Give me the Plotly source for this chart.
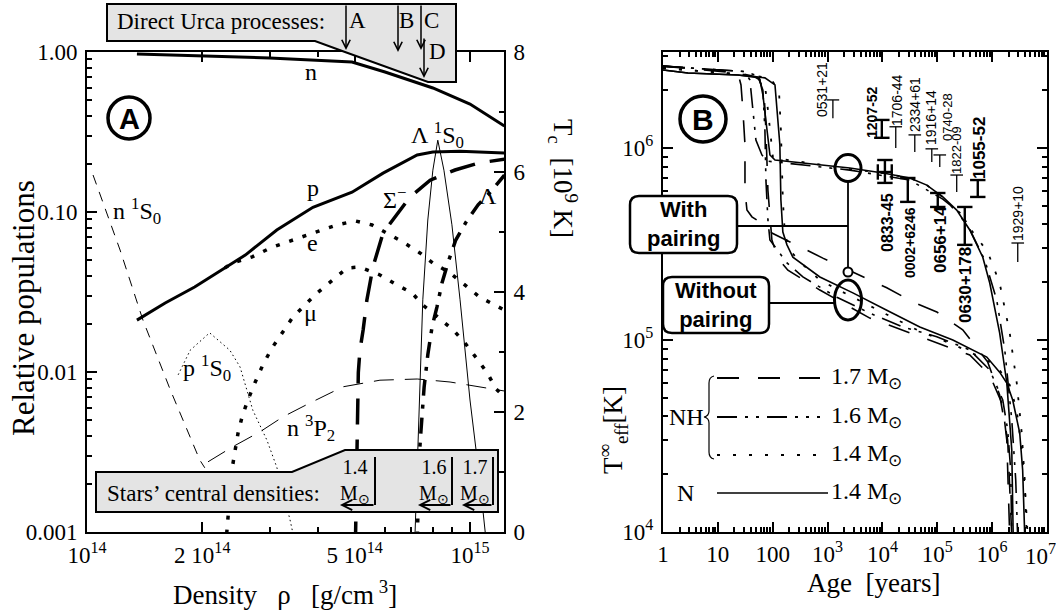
import plotly.graph_objects as go

W, H = 1056, 616
SERIF = "Liberation Serif"
SANS = "Liberation Sans"

# ------------------------- Panel A : populations vs density -------------------------
rho_n = [1.35e14, 2.0e14, 3.0e14, 4.92e14, 6.0e14, 8.0e14, 1.0e15, 1.23e15]
pop_n = [0.972, 0.944, 0.917, 0.866, 0.75, 0.596, 0.473, 0.345]

rho_p = [1.35e14, 1.60e14, 1.91e14, 2.20e14, 2.59e14, 3.13e14, 3.89e14, 4.92e14, 5.93e14, 7.28e14, 8.0e14, 9.42e14, 1.23e15]
pop_p = [0.0211, 0.027, 0.034, 0.0422, 0.0538, 0.0772, 0.107, 0.133, 0.175, 0.227, 0.237, 0.240, 0.234]

rho_e = [2.29e14, 2.40e14, 2.70e14, 3.01e14, 3.33e14, 3.66e14, 4.11e14, 4.50e14, 5.01e14, 5.55e14, 6.07e14, 6.68e14, 7.40e14, 8.00e14, 8.87e14, 9.70e14, 1.06e15, 1.23e15]
pop_e = [0.0447, 0.048, 0.0524, 0.0596, 0.0649, 0.0698, 0.0772, 0.083, 0.088, 0.083, 0.074, 0.0649, 0.0555, 0.048, 0.0416, 0.035, 0.0294, 0.0244]

rho_mu = [2.30e14, 2.36e14, 2.39e14, 2.43e14, 2.48e14, 2.54e14, 2.63e14, 2.75e14, 2.88e14, 3.04e14, 3.23e14, 3.45e14, 3.99e14, 4.39e14, 4.78e14, 5.16e14, 5.82e14, 6.44e14, 7.06e14, 7.53e14, 8.00e14, 9.04e14, 9.70e14, 1.04e15, 1.11e15, 1.17e15, 1.23e15]
pop_mu = [0.0008, 0.00183, 0.00244, 0.00312, 0.00416, 0.00524, 0.00668, 0.00866, 0.0111, 0.0141, 0.0175, 0.0221, 0.0312, 0.0376, 0.0447, 0.0453, 0.0404, 0.035, 0.0312, 0.0262, 0.0234, 0.0183, 0.0152, 0.0122, 0.00986, 0.00783, 0.00698]

rho_sigma = [5.02e14, 5.07e14, 5.11e14, 5.16e14, 5.26e14, 5.38e14, 5.58e14, 5.93e14, 6.37e14, 6.97e14, 7.87e14, 9.14e14, 1.05e15, 1.23e15]
pop_sigma = [0.0008, 0.00434, 0.0099, 0.0137, 0.0183, 0.0282, 0.0453, 0.074, 0.093, 0.124, 0.158, 0.183, 0.202, 0.214]

rho_lambda = [7.28e14, 7.31e14, 7.36e14, 7.45e14, 7.59e14, 7.76e14, 7.96e14, 8.20e14, 8.45e14, 8.77e14, 9.18e14, 9.77e14, 1.05e15, 1.13e15, 1.23e15]
pop_lambda = [0.0008, 0.0012, 0.00282, 0.00434, 0.00805, 0.0128, 0.0191, 0.0255, 0.036, 0.0487, 0.0668, 0.0866, 0.111, 0.133, 0.170]

# critical temperatures (right axis, 10^9 K)
rho_n1s0 = [1.037e14, 1.22e14, 1.40e14, 1.65e14, 1.97e14, 2.03e14]
tc_n1s0 = [5.95, 4.7, 3.53, 2.37, 1.2, 1.07]

rho_n3p2 = [2.07e14, 2.40e14, 2.83e14, 3.25e14, 3.82e14, 4.66e14, 5.82e14, 7.28e14, 8.87e14, 1.11e15, 1.23e15]
tc_n3p2 = [1.17, 1.42, 1.67, 1.92, 2.15, 2.42, 2.53, 2.55, 2.5, 2.4, 2.35]

rho_p1s0 = [1.73e14, 1.86e14, 2.09e14, 2.36e14, 2.51e14, 2.71e14, 2.95e14, 3.13e14, 3.39e14, 3.47e14]
tc_p1s0 = [2.62, 3.03, 3.32, 3.03, 2.75, 2.03, 1.53, 1.08, 0.2, -0.1]

rho_l1s0 = [7.18e14, 7.31e14, 7.53e14, 7.76e14, 8.0e14, 8.24e14, 8.55e14, 8.97e14, 9.42e14, 1.0e15, 1.06e15, 1.10e15]
tc_l1s0 = [-0.1, 1.37, 3.87, 5.2, 6.03, 6.53, 6.03, 5.12, 3.87, 2.2, 0.87, -0.1]

# ------------------------- Panel B : cooling curves -------------------------
age_N14_p = [1, 2.85, 23.2, 47.4, 58.5, 66.2, 72.1, 81.8, 88.9, 110, 2.55e3, 1.02e4, 3.16e4, 6.44e4, 1.26e5, 2.26e5, 3.91e5, 6.75e5, 9.04e5, 1.37e6, 1.85e6, 2.28e6, 2.42e6]
T_N14_p = [2.55e6, 2.46e6, 2.40e6, 2.34e6, 2.26e6, 1.89e6, 1.54e6, 1.10e6, 9.2e5, 8.66e5, 7.87e5, 7.41e5, 6.98e5, 6.41e5, 5.56e5, 4.75e5, 3.74e5, 2.70e5, 1.98e5, 1.09e5, 5.97e4, 2.67e4, 9.5e3]

age_N14_np = [1, 2.85, 23.2, 72.1, 110, 119, 135, 141, 153, 182, 233, 724, 2.89e3, 1.20e4, 4.80e4, 1.92e5, 7.98e5, 1.37e6, 1.85e6, 2.37e6, 3.18e6, 3.6e6, 3.93e6]
T_N14_np = [2.55e6, 2.46e6, 2.40e6, 2.32e6, 2.13e6, 1.54e6, 1.04e6, 5.36e5, 3.65e5, 3.13e5, 2.70e5, 2.13e5, 1.76e5, 1.43e5, 1.17e5, 1.0e5, 8.15e4, 6.8e4, 5.97e4, 4.87e4, 3.28e4, 2.1e4, 9.5e3]

age_NH14_p = [1, 23.2, 53.7, 72.1, 81.8, 92.7, 101, 2.55e3, 1.02e4, 3.16e4, 6.44e4, 1.26e5, 2.26e5, 3.91e5, 8.32e5, 1.37e6, 2.09e6, 2.81e6, 3.46e6, 3.93e6, 4.27e6]
T_NH14_p = [2.61e6, 2.43e6, 2.34e6, 2.13e6, 1.58e6, 1.10e6, 8.9e5, 7.77e5, 7.41e5, 6.98e5, 6.41e5, 5.56e5, 4.64e5, 3.83e5, 2.87e5, 1.98e5, 1.09e5, 5.97e4, 3.28e4, 1.87e4, 9.5e3]

age_NH14_np = [1, 23.2, 88.9, 130, 141, 153, 167, 206, 313, 724, 2.89e3, 1.2e4, 4.8e4, 1.92e5, 7.98e5, 1.37e6, 2.09e6, 2.81e6, 3.46e6, 4.09e6, 4.45e6]
T_NH14_np = [2.61e6, 2.43e6, 2.32e6, 2.0e6, 1.24e6, 5.36e5, 3.52e5, 2.94e5, 2.55e5, 2.05e5, 1.67e5, 1.36e5, 1.11e5, 9.5e4, 7.87e4, 6.98e4, 5.83e4, 4.3e4, 2.67e4, 1.47e4, 9.5e3]

age_NH16_p = [1, 10.9, 31.2, 38.4, 43.6, 49.4, 63.6, 78.3, 2.55e3, 3.16e4, 1.26e5, 2.91e5, 7.33e5, 1.21e6, 1.70e6, 2.28e6, 2.69e6, 2.92e6]
T_NH16_p = [2.67e6, 2.55e6, 2.50e6, 2.26e6, 1.58e6, 1.10e6, 9.2e5, 8.55e5, 7.67e5, 6.8e5, 5.42e5, 4.48e5, 2.61e5, 1.62e5, 8.87e4, 3.83e4, 1.87e4, 9.5e3]

age_NH16_np = [1, 31.2, 53.7, 66.2, 72.1, 75.2, 81.8, 88.9, 182, 355, 1.48e3, 5.89e3, 2.36e4, 9.8e4, 3.91e5, 9.04e5, 1.56e6, 1.92e6, 2.18e6, 2.28e6]
T_NH16_np = [2.67e6, 2.50e6, 2.37e6, 2.0e6, 1.24e6, 6.8e5, 4.22e5, 3.32e5, 2.52e5, 2.13e5, 1.67e5, 1.38e5, 1.17e5, 1.04e5, 8.87e4, 6.98e4, 4.87e4, 3.4e4, 2.1e4, 9.5e3]

age_NH17_p = [1, 10.9, 23.2, 26.4, 28.6, 31.2, 31.2, 33.9, 41.8, 58.5, 96.6, 313, 820, 1.2e4, 3.58e4, 9.8e4, 2.91e5, 8.32e5, 1.37e6, 1.92e6, 2.28e6]
T_NH17_p = [2.67e6, 2.55e6, 2.46e6, 2.13e6, 1.58e6, 1.04e6, 6.0e5, 4.75e5, 4.38e5, 4.12e5, 3.61e5, 3.05e5, 2.67e5, 1.87e5, 1.58e5, 1.40e5, 1.13e5, 7.67e4, 5.17e4, 3.01e4, 9.5e3]

age_NH17_np = [1, 23.2, 53.7, 69.1, 75.2, 81.8, 96.6, 124, 189, 724, 5.89e3, 4.8e4, 3.91e5, 9.04e5, 1.56e6, 1.85e6, 2.09e6]
T_NH17_np = [2.67e6, 2.46e6, 2.34e6, 2.0e6, 1.24e6, 6.0e5, 3.32e5, 2.67e5, 2.31e5, 1.82e5, 1.30e5, 1.04e5, 8.36e4, 6.56e4, 4.58e4, 3.01e4, 9.5e3]

# observations: upper limits (cap at top) and ranges
lim_names = ["0531+21", "1706-44", "2334+61", "1916+14", "0740-28", "1822-09", "1929+10"]
lim_age = [1.25e3, 1.75e4, 3.89e4, 7.94e4, 1.11e5, 2.26e5, 2.93e6]
lim_T_top = [1.78e6, 1.29e6, 1.17e6, 9.9e5, 9.2e5, 7.23e5, 3.2e5]
lim_T_bot = [1.43e6, 1.0e6, 9.53e5, 8.45e5, 7.96e5, 5.9e5, 2.55e5]

rng_names = ["1207-52", "0833-45", "0002+6246", "0656+14", "0630+178", "1055-52"]
rng_age = [9.75e3, 1.11e4, 2.9e4, 1.02e5, 3.17e5, 5.47e5]
rng_T_hi = [1.40e6, 8.66e5, 6.98e5, 5.83e5, 4.93e5, 6.81e5]
rng_T_lo = [1.13e6, 6.58e5, 5.24e5, 4.93e5, 3.13e5, 5.56e5]
vela_age_range = [8.24e3, 1.48e4]
vela_T = 7.5e5

# age axis tick labels
age_ticks = [1, 10, 100, 1e3, 1e4, 1e5, 1e6, 1e7]
age_ticktext = ["1", "10", "100", "10<sup>3</sup>", "10<sup>4</sup>", "10<sup>5</sup>", "10<sup>6</sup>", "10<sup>7</sup>"]

# label centres (pixels) for the observation names, font sizes, weights
lab_pos = {"0531+21": (822, 90, 14, False), "1706-44": (897, 100, 14, False), "2334+61": (915, 105, 14, False),
           "1916+14": (931, 118, 14, False), "0740-28": (947, 117, 13, False), "1822-09": (957, 150, 13, False),
           "1929+10": (1018, 214, 14, False), "1207-52": (872, 112, 14, True), "0833-45": (887, 223, 16, True),
           "0002+6246": (910, 243, 14, True), "0656+14": (940, 240, 17, True), "0630+178": (965, 285, 17, True),
           "1055-52": (979, 148, 17, True)}

# --------------------------------------------------------------------------------
def X(p):
    return p / W


def Y(p):
    return 1 - p / H


fig = go.Figure()


def add(x, y, xa, ya, width, dash="solid"):
    fig.add_trace(go.Scatter(x=x, y=y, mode="lines", xaxis=xa, yaxis=ya, hoverinfo="skip",
                             line=dict(color="black", width=width, dash=dash)))


# Panel A traces
add(rho_n, pop_n, "x", "y", 3)
add(rho_p, pop_p, "x", "y", 3)
add(rho_e, pop_e, "x", "y", 3.5, "4px,10px")
add(rho_mu, pop_mu, "x", "y", 3.5, "4px,10px")
add(rho_sigma, pop_sigma, "x", "y", 3.5, "26px,15px")
add(rho_lambda, pop_lambda, "x", "y", 3.5, "16px,9px,4px,9px")
add(rho_n1s0, tc_n1s0, "x", "y2", 1, "10px,8px")
add(rho_n3p2, tc_n3p2, "x", "y2", 1, "20px,11px")
add(rho_p1s0, tc_p1s0, "x", "y2", 1, "1.5px,3px")
add(rho_l1s0, tc_l1s0, "x", "y2", 1)

# Panel B traces
DASH17 = "22px,19px"
DASH16 = "20px,8px,3px,8px,3px,8px"
DOT14 = "3px,13px"
add(age_N14_p, T_N14_p, "x2", "y3", 1.6)
add(age_N14_np, T_N14_np, "x2", "y3", 1.6)
add(age_NH14_p, T_NH14_p, "x2", "y3", 1.8, DOT14)
add(age_NH14_np, T_NH14_np, "x2", "y3", 1.8, DOT14)
add(age_NH16_p, T_NH16_p, "x2", "y3", 1.6, DASH16)
add(age_NH16_np, T_NH16_np, "x2", "y3", 1.6, DASH16)
add(age_NH17_p, T_NH17_p, "x2", "y3", 1.6, DASH17)
add(age_NH17_np, T_NH17_np, "x2", "y3", 1.6, DASH17)

# observation markers
lx, ly = [], []
for a, t1, t0 in zip(lim_age, lim_T_top, lim_T_bot):
    lx += [a, a, None]
    ly += [t0, t1, None]
fig.add_trace(go.Scatter(x=lx, y=ly, mode="lines", xaxis="x2", yaxis="y3", hoverinfo="skip",
                         line=dict(color="black", width=1.3)))
fig.add_trace(go.Scatter(x=lim_age, y=lim_T_top, mode="markers", xaxis="x2", yaxis="y3", hoverinfo="skip",
                         marker=dict(symbol="line-ew", size=9, line=dict(color="black", width=1.3))))
rx, ry = [], []
for a, t1, t0 in zip(rng_age, rng_T_hi, rng_T_lo):
    rx += [a, a, None]
    ry += [t0, t1, None]
rx += [vela_age_range[0], vela_age_range[1], None]
ry += [vela_T, vela_T, None]
fig.add_trace(go.Scatter(x=rx, y=ry, mode="lines", xaxis="x2", yaxis="y3", hoverinfo="skip",
                         line=dict(color="black", width=2.4)))
fig.add_trace(go.Scatter(x=rng_age + rng_age, y=rng_T_hi + rng_T_lo, mode="markers", xaxis="x2", yaxis="y3",
                         hoverinfo="skip", marker=dict(symbol="line-ew", size=11, line=dict(color="black", width=2.4))))
fig.add_trace(go.Scatter(x=vela_age_range, y=[vela_T, vela_T], mode="markers", xaxis="x2", yaxis="y3",
                         hoverinfo="skip", marker=dict(symbol="line-ns", size=11, line=dict(color="black", width=2.4))))

# --------------------------------------------------------------------------------
ann = []


def text(t, x, y, size=24, family=SERIF, angle=0, xanchor="center", yanchor="middle"):
    ann.append(dict(text=t, x=X(x), y=Y(y), xref="paper", yref="paper", showarrow=False, textangle=angle,
                    xanchor=xanchor, yanchor=yanchor, font=dict(size=size, family=family, color="black")))


def arrow(xh, yh, xt, yt, width=1.5):
    ann.append(dict(text="", x=X(xh), y=Y(yh), xref="paper", yref="paper", showarrow=True,
                    ax=xt - xh, ay=yt - yh, axref="pixel", ayref="pixel", arrowhead=5, arrowsize=1.1,
                    arrowwidth=width, arrowcolor="black"))


shapes = []


def poly(pts, fill="#e4e4e4", width=2):
    d = "M " + " L ".join(f"{X(a):.5f},{Y(b):.5f}" for a, b in pts) + " Z"
    shapes.append(dict(type="path", path=d, xref="paper", yref="paper", fillcolor=fill,
                       line=dict(color="black", width=width), layer="above"))


def seg(x0, y0, x1, y1, width=1.5, dash="solid"):
    shapes.append(dict(type="line", x0=X(x0), y0=Y(y0), x1=X(x1), y1=Y(y1), xref="paper", yref="paper",
                       line=dict(color="black", width=width, dash=dash), layer="above"))


def ellipse(cx, cy, rx, ry, width=3, fill="rgba(0,0,0,0)"):
    shapes.append(dict(type="circle", x0=X(cx - rx), x1=X(cx + rx), y0=Y(cy + ry), y1=Y(cy - ry),
                       xref="paper", yref="paper", line=dict(color="black", width=width), fillcolor=fill,
                       layer="above"))


def rrect(x0, y0, x1, y1, r, width=2.5):
    d = (f"M {X(x0 + r)},{Y(y0)} L {X(x1 - r)},{Y(y0)} Q {X(x1)},{Y(y0)} {X(x1)},{Y(y0 + r)} "
         f"L {X(x1)},{Y(y1 - r)} Q {X(x1)},{Y(y1)} {X(x1 - r)},{Y(y1)} L {X(x0 + r)},{Y(y1)} "
         f"Q {X(x0)},{Y(y1)} {X(x0)},{Y(y1 - r)} L {X(x0)},{Y(y0 + r)} Q {X(x0)},{Y(y0)} {X(x0 + r)},{Y(y0)} Z")
    shapes.append(dict(type="path", path=d, xref="paper", yref="paper", fillcolor="white",
                       line=dict(color="black", width=width), layer="above"))


# ---- Panel A decorations
poly([(107, 4), (456, 4), (456, 82), (428, 82), (345, 52), (315, 41), (107, 41)])
text("Direct Urca processes:", 115, 22, 23, xanchor="left")
for lab, xa, y0, y1, tx, ty in [("A", 346, 4, 50, 357, 21), ("B", 398, 4, 52, 406, 21),
                                ("C", 421, 4, 50, 431, 21), ("D", 424, 37, 78, 437, 52)]:
    arrow(xa, y1, xa, y0)
    text(lab, tx, ty, 23)

poly([(96, 512), (96, 472), (292, 472), (345, 450), (498, 450), (498, 512)])
text("Stars’ central densities:", 105, 493, 23, xanchor="left")
for m, tx, xl, xh in [("1.4", 355, 375, 340), ("1.6", 434, 452, 418), ("1.7", 475, 493, 462)]:
    text(f"{m}<br>M<sub>⊙</sub>", tx, 481, 20)
    seg(xl, 457, xl, 505, 2)
    arrow(xh, 505, xl, 505, 1.8)

ellipse(129, 118, 21, 21, 3.5)
text("<b>A</b>", 129, 119, 29, SANS)

text("n", 311, 72)
text("p", 313, 188)
text("e", 312, 243)
text("μ", 310, 313)
text("Σ<sup>−</sup>", 394, 198)
text("Λ", 488, 196)
text("Λ <sup>1</sup>S<sub>0</sub>", 437, 135)
text("n <sup>1</sup>S<sub>0</sub>", 137, 211)
text("p <sup>1</sup>S<sub>0</sub>", 207, 368)
text("n <sup>3</sup>P<sub>2</sub>", 311, 428)

text("Relative populations", 23, 308, 31, angle=-90)
text("T<sub>c</sub>  [10<sup>9</sup> K]", 563, 178, 27, angle=90)
text("Density   ρ   [g/cm<sup> 3</sup>]", 285, 593, 27)

# ---- Panel B decorations
ellipse(703, 119, 23, 23, 3.5)
text("<b>B</b>", 703, 120, 30, SANS)

seg(737, 226, 848, 226, 1.8)
seg(848, 182, 848, 268, 1.8)
seg(769, 303, 835, 303, 1.8)
ellipse(848, 168, 13, 13.5, 3)
ellipse(848, 272, 4.5, 4.5, 2, "white")
ellipse(848, 300, 13.5, 20, 3)
rrect(630, 196, 737, 253, 9)
rrect(663, 277, 769, 333, 9)
text("<b>With<br>pairing</b>", 683, 224, 22, SANS)
text("<b>Without<br>pairing</b>", 716, 305, 22, SANS)

for nm, (cx, cy, fs, bold) in lab_pos.items():
    text(f"<b>{nm}</b>" if bold else nm, cx, cy, fs, SANS, angle=-90)

# legend
for yy, dash, lab in [(378, DASH17, "1.7"), (417, DASH16, "1.6"), (455, DOT14, "1.4")]:
    seg(717, yy, 820, yy, 2, dash)
    text(f"{lab} M<sub>⊙</sub>", 829, yy, 24, xanchor="left")
seg(717, 493, 828, 493, 1.6)
text("1.4 M<sub>⊙</sub>", 829, 493, 24, xanchor="left")
text("NH", 686, 417, 24)
text("N", 685, 493, 24)
brace = (f"M {X(714)},{Y(376)} Q {X(709)},{Y(377)} {X(709)},{Y(383)} L {X(709)},{Y(411)} "
         f"Q {X(709)},{Y(416)} {X(704)},{Y(417)} Q {X(709)},{Y(418)} {X(709)},{Y(423)} "
         f"L {X(709)},{Y(452)} Q {X(709)},{Y(458)} {X(714)},{Y(459)}")
shapes.append(dict(type="path", path=brace, xref="paper", yref="paper", line=dict(color="black", width=1.2),
                   layer="above"))

text("Age  [years]", 873, 583, 27)
text("T<sup>∞</sup><sub>eff</sub>[K]", 613, 430, 27, angle=-90)
# last age tick label sits at the page edge: place it explicitly so it is not dropped
text(age_ticktext[-1], 1040, 554, 23)

# --------------------------------------------------------------------------------
yd = [(616 - 532) / 616, (616 - 52) / 616]
tickfont = dict(family=SERIF, size=23, color="black")
common = dict(showgrid=False, zeroline=False, showline=True, linecolor="black", linewidth=2, automargin=False,
              ticks="inside", ticklen=10, tickwidth=1.5, tickcolor="black", tickfont=tickfont)

minA_x = [k * 1e14 for k in (3, 4, 6, 7, 8, 9)]
minA_y = [k * 10.0 ** e for e in (-3, -2, -1) for k in range(2, 10)]
minB_x = [k * 10.0 ** e for e in range(0, 7) for k in range(2, 10)]
minB_y = [k * 10.0 ** e for e in (4, 5, 6) for k in range(2, 10) if k * 10.0 ** e < 3.2e6]

fig.update_layout(
    width=W, height=H, margin=dict(l=0, r=0, t=0, b=0, autoexpand=False), showlegend=False,
    paper_bgcolor="white", plot_bgcolor="white",
    font=dict(family=SERIF, size=23, color="black"),
    xaxis=dict(type="log", domain=[87 / W, 504 / W], range=[14, 15.0888], anchor="y", mirror="ticks",
               tickvals=[1e14, 2e14, 5e14, 1e15],
               ticktext=["10<sup>14</sup>", "2 10<sup>14</sup>", "5 10<sup>14</sup>", "10<sup>15</sup>"],
               minor=dict(tickvals=minA_x, ticks="inside", ticklen=5, tickwidth=1.5, tickcolor="black"),
               ticklabelstandoff=1, **common),
    yaxis=dict(type="log", domain=yd, range=[-3, 0], anchor="x",
               tickvals=[0.001, 0.01, 0.1, 1], ticktext=["0.001", "0.01", "0.10", "1.00"],
               minor=dict(tickvals=minA_y, ticks="inside", ticklen=5, tickwidth=1.5, tickcolor="black"),
               ticklabelstandoff=3, **common),
    yaxis2=dict(overlaying="y", side="right", range=[0, 8], anchor="x", tickvals=[0, 2, 4, 6, 8],
                minor=dict(tickvals=[1, 3, 5, 7], ticks="inside", ticklen=5, tickwidth=1.5, tickcolor="black"),
                ticklabelstandoff=3, **common),
    xaxis2=dict(type="log", domain=[663 / W, 1047 / W], range=[0, 7], anchor="y3", mirror="ticks",
                tickvals=age_ticks, ticktext=age_ticktext[:-1] + [""],
                minor=dict(tickvals=minB_x, ticks="inside", ticklen=5, tickwidth=1.5, tickcolor="black"),
                ticklabelstandoff=0, **common),
    yaxis3=dict(type="log", domain=yd, range=[4, 6.5], anchor="x2", mirror="ticks",
                tickvals=[1e4, 1e5, 1e6], ticktext=["10<sup>4</sup>", "10<sup>5</sup>", "10<sup>6</sup>"],
                minor=dict(tickvals=minB_y, ticks="inside", ticklen=5, tickwidth=1.5, tickcolor="black"),
                ticklabelstandoff=3, **common),
    annotations=ann, shapes=shapes,
)

fig.write_html("out.html", config={"displayModeBar": False},
               post_script="document.body.style.margin='0px';document.body.style.overflow='hidden';")
